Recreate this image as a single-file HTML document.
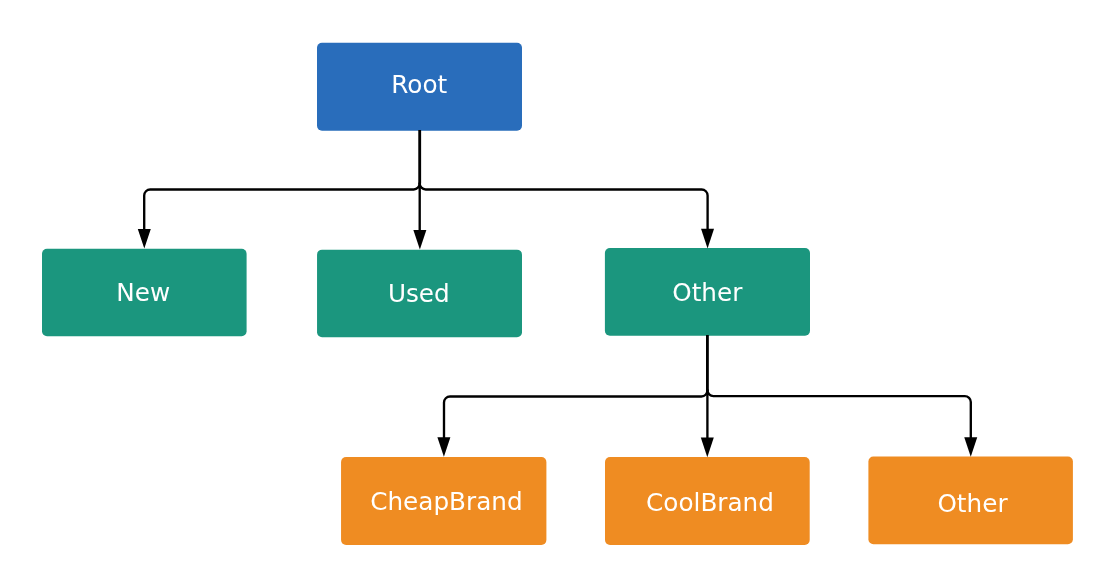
<!DOCTYPE html>
<html><head><meta charset="utf-8">
<style>
html,body{margin:0;padding:0;background:#fff;}
body{width:1117px;height:587px;overflow:hidden;}
svg{display:block;will-change:transform;}
text{font-family:"DejaVu Sans","Liberation Sans",sans-serif;font-size:24.7px;fill:#fff;text-anchor:middle;}
.l{fill:none;stroke:#000;stroke-width:2.35;stroke-linejoin:round;}
.a{fill:#000;}
</style></head><body>
<svg width="1117" height="587" viewBox="0 0 1117 587">
<rect x="317" y="42.8" width="205" height="87.85" rx="5" fill="#296dbb"/>
<rect x="42" y="248.7" width="204.6" height="87.6" rx="5" fill="#1b967e"/>
<rect x="317.05" y="249.65" width="204.95" height="87.6" rx="5" fill="#1b967e"/>
<rect x="604.9" y="248.1" width="205.1" height="87.65" rx="5" fill="#1b967e"/>
<rect x="341.05" y="457" width="205.35" height="88" rx="5" fill="#ef8c22"/>
<rect x="605" y="457" width="204.7" height="88" rx="5" fill="#ef8c22"/>
<rect x="868.4" y="456.6" width="204.5" height="87.7" rx="5" fill="#ef8c22"/>
<path class="l" style="stroke-width:2.85" d="M419.7 130 V183.45"/>
<path class="l" d="M419.7 182.45 V236"/>
<path class="l" d="M419.7 182.95 V183.45 A6 6 0 0 1 413.7 189.45 H150.2 A6 6 0 0 0 144.2 195.45 V236"/>
<path class="l" d="M419.7 182.95 V183.45 A6 6 0 0 0 425.7 189.45 H701.6 A6 6 0 0 1 707.6 195.45 V236"/>
<path class="a" d="M137.80 229.00 H150.80 L144.30 248.60 Z"/>
<path class="a" d="M413.35 230.00 H426.35 L419.85 249.60 Z"/>
<path class="a" d="M701.05 228.80 H714.05 L707.55 248.40 Z"/>
<path class="l" style="stroke-width:2.85" d="M707.4 335 V390.5"/>
<path class="l" d="M707.4 389.5 V445"/>
<path class="l" d="M707.4 390.0 V390.5 A6 6 0 0 1 701.4 396.5 H450 A6 6 0 0 0 444 402.5 V445"/>
<path class="l" d="M707.4 389.6 V390.1 A6 6 0 0 0 713.4 396.1 H964.8 A6 6 0 0 1 970.8 402.1 V445"/>
<path class="a" d="M437.40 437.20 H450.40 L443.90 456.80 Z"/>
<path class="a" d="M700.80 437.55 H713.80 L707.30 457.15 Z"/>
<path class="a" d="M964.25 437.15 H977.25 L970.75 456.75 Z"/>

<text x="419.3" y="92.7">Root</text>
<text x="143.2" y="301">New</text>
<text x="418.8" y="302">Used</text>
<text x="707.3" y="301">Other</text>
<text x="446.4" y="510">CheapBrand</text>
<text x="710" y="511">CoolBrand</text>
<text x="972.5" y="512">Other</text>
</svg>
</body></html>
